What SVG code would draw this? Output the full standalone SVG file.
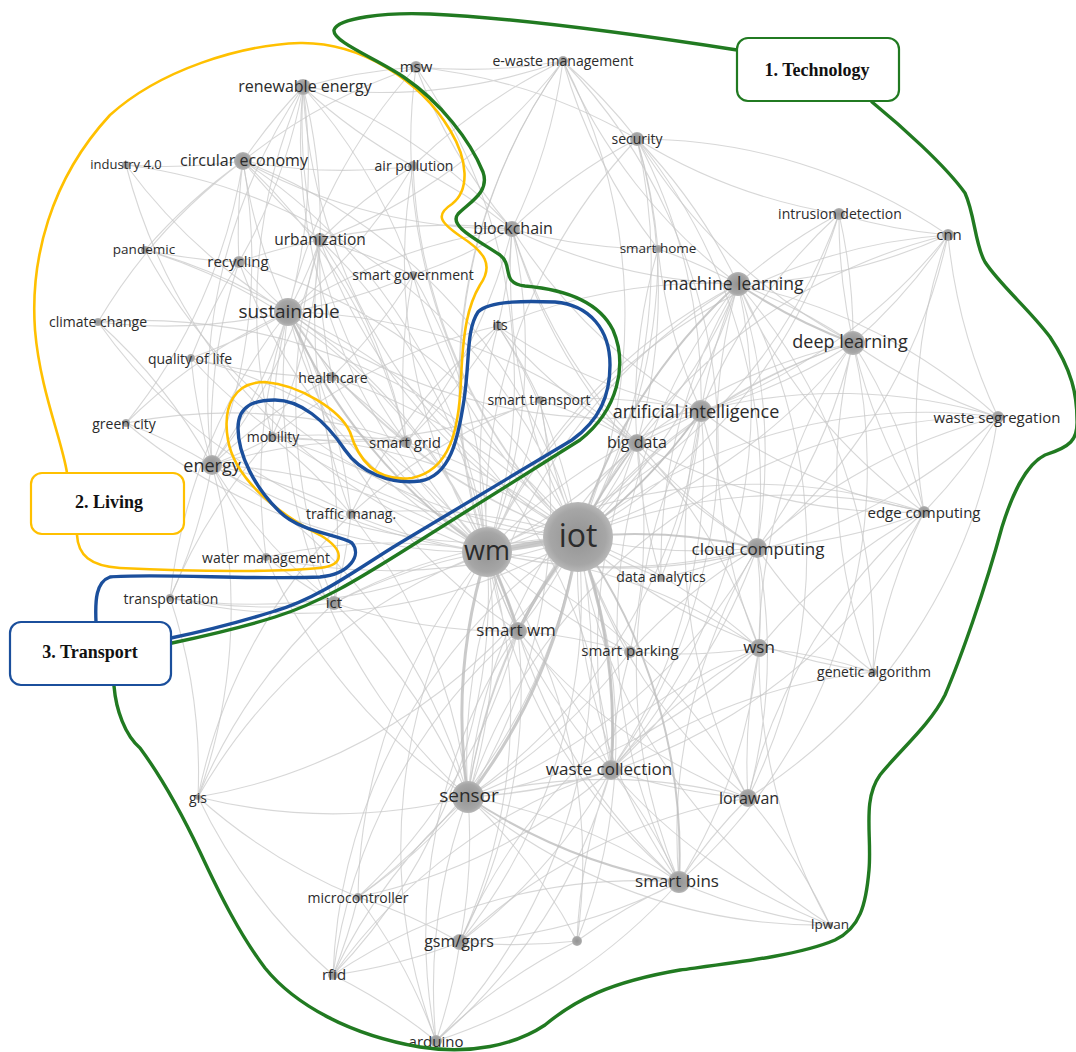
<svg xmlns="http://www.w3.org/2000/svg" width="1076" height="1052" viewBox="0 0 1076 1052">
<style>
.e path{fill:none;stroke:#c6c6c6;stroke-opacity:.7;stroke-width:1.1}
.t path{fill:none;stroke:#bdbdbd;stroke-opacity:.8}
.n circle{fill:url(#ng)}
.n text{font-family:"Open Sans","Noto Sans",sans-serif;fill:#2b2b2b;text-anchor:middle;dominant-baseline:central}
.hull{fill:none;stroke-linejoin:round;stroke-linecap:round}
.box rect{fill:#fff;stroke-width:2.2}
.box text{font-family:"Liberation Serif",serif;font-weight:bold;font-size:18px;fill:#111;text-anchor:middle;dominant-baseline:central}
</style>
<defs>
<radialGradient id="ng"><stop offset="0" stop-color="#939393"/><stop offset=".8" stop-color="#a6a6a6"/><stop offset="1" stop-color="#b8b8b8"/></radialGradient>
</defs>
<rect width="1076" height="1052" fill="#fff"/>

<!-- co-occurrence links -->
<g id="links" class="e">
<path d="M578 537A550 550 0 0 1 416 67M578 537A550 550 0 0 0 563 61M578 537A550 550 0 0 1 303 87M578 537A550 550 0 0 0 243 161M578 537A550 550 0 0 1 413 166M578 537A550 550 0 0 0 637 139M578 537A550 550 0 0 1 512 229M578 537A550 550 0 0 0 839 214M578 537A550 550 0 0 1 948 235M578 537A550 550 0 0 0 658 249M578 537A550 550 0 0 1 320 240M578 537A550 550 0 0 0 239 262M578 537A550 550 0 0 1 413 275M578 537A550 550 0 0 0 738 284M578 537A550 550 0 0 1 288 312M578 537A550 550 0 0 0 498 326M578 537A550 550 0 0 1 853 343M578 537A550 550 0 0 0 332 377M578 537A550 550 0 0 1 540 400M578 537A550 550 0 0 0 701 411M578 537A550 550 0 0 1 998 417M578 537A550 550 0 0 0 272 437M578 537A550 550 0 0 1 406 442M578 537A550 550 0 0 0 637 443M578 537A550 550 0 0 1 212 465M578 537A550 550 0 0 0 351 514M578 537A550 550 0 0 1 924 512M578 537A550 550 0 0 0 757 548M578 537A550 550 0 0 1 266 557M578 537A550 550 0 0 0 661 578M578 537A550 550 0 0 1 170 598M578 537A550 550 0 0 0 334 603M578 537A550 550 0 0 1 518 631M578 537A550 550 0 0 0 630 652M578 537A550 550 0 0 1 759 648M578 537A550 550 0 0 0 873 672M578 537A550 550 0 0 1 611 770M578 537A550 550 0 0 0 468 797M578 537A550 550 0 0 1 198 797M578 537A550 550 0 0 0 748 798M578 537A550 550 0 0 1 358 897M578 537A550 550 0 0 0 679 882M578 537A550 550 0 0 1 460 942M578 537A550 550 0 0 0 830 925M578 537A550 550 0 0 1 577 941M578 537A550 550 0 0 0 333 975M578 537A550 550 0 0 1 436 1041M578 537A550 550 0 0 0 126 165M578 537A550 550 0 0 1 145 250M578 537A550 550 0 0 0 98 322M578 537A550 550 0 0 1 191 358M578 537A550 550 0 0 0 126 423"/>
<path d="M487 552A550 550 0 0 0 416 67M487 552A550 550 0 0 1 303 87M487 552A550 550 0 0 0 243 161M487 552A550 550 0 0 1 413 166M487 552A550 550 0 0 1 637 139M487 552A550 550 0 0 0 512 229M487 552A550 550 0 0 0 320 240M487 552A550 550 0 0 1 239 262M487 552A550 550 0 0 0 413 275M487 552A550 550 0 0 1 738 284M487 552A550 550 0 0 0 288 312M487 552A550 550 0 0 1 498 326M487 552A550 550 0 0 0 853 343M487 552A550 550 0 0 1 332 377M487 552A550 550 0 0 1 701 411M487 552A550 550 0 0 0 998 417M487 552A550 550 0 0 0 272 437M487 552A550 550 0 0 1 406 442M487 552A550 550 0 0 0 637 443M487 552A550 550 0 0 0 212 465M487 552A550 550 0 0 1 351 514M487 552A550 550 0 0 1 924 512M487 552A550 550 0 0 0 757 548M487 552A550 550 0 0 0 266 557M487 552A550 550 0 0 1 170 598M487 552A550 550 0 0 0 334 603M487 552A550 550 0 0 1 518 631M487 552A550 550 0 0 0 630 652M487 552A550 550 0 0 1 759 648M487 552A550 550 0 0 0 611 770M487 552A550 550 0 0 1 468 797M487 552A550 550 0 0 0 198 797M487 552A550 550 0 0 1 748 798M487 552A550 550 0 0 0 679 882M487 552A550 550 0 0 1 460 942M487 552A550 550 0 0 1 333 975M487 552A550 550 0 0 0 436 1041M487 552A550 550 0 0 1 126 165M487 552A550 550 0 0 0 145 250M487 552A550 550 0 0 1 98 322M487 552A550 550 0 0 0 191 358M487 552A550 550 0 0 1 126 423M487 552A550 550 0 0 1 563 61M487 552A550 550 0 0 0 839 214M487 552A550 550 0 0 1 948 235M487 552A550 550 0 0 0 358 897M487 552A550 550 0 0 1 577 941M487 552A550 550 0 0 0 540 400"/>
<path d="M468 797A550 550 0 0 1 679 882M468 797A550 550 0 0 0 611 770M468 797A550 550 0 0 1 460 942M468 797A550 550 0 0 0 436 1041M468 797A550 550 0 0 1 358 897M468 797A550 550 0 0 0 333 975M468 797A550 550 0 0 1 748 798M468 797A550 550 0 0 0 759 648M468 797A550 550 0 0 1 518 631M468 797A550 550 0 0 0 757 548M468 797A550 550 0 0 1 738 284M468 797A550 550 0 0 0 701 411M468 797A550 550 0 0 1 637 443M468 797A550 550 0 0 0 630 652M468 797A550 550 0 0 1 198 797M468 797A550 550 0 0 0 830 925M468 797A550 550 0 0 1 577 941M468 797A550 550 0 0 0 212 465M468 797A550 550 0 0 1 288 312M468 797A550 550 0 0 0 334 603M468 797A550 550 0 0 1 853 343M468 797A550 550 0 0 0 924 512M468 797A550 550 0 0 1 998 417M468 797A550 550 0 0 0 540 400M468 797A550 550 0 0 1 266 557M468 797A550 550 0 0 0 351 514"/>
<path d="M288 312A550 550 0 0 1 243 161M288 312A550 550 0 0 0 303 87M288 312A550 550 0 0 1 239 262M288 312A550 550 0 0 0 320 240M288 312A550 550 0 0 1 212 465M288 312A550 550 0 0 0 413 275M288 312A550 550 0 0 1 332 377M288 312A550 550 0 0 0 272 437M288 312A550 550 0 0 1 191 358M288 312A550 550 0 0 0 126 423M288 312A550 550 0 0 1 98 322M288 312A550 550 0 0 0 145 250M288 312A550 550 0 0 1 126 165M288 312A550 550 0 0 0 413 166M288 312A550 550 0 0 1 416 67M288 312A550 550 0 0 0 406 442M288 312A550 550 0 0 1 512 229M288 312A550 550 0 0 0 701 411M288 312A550 550 0 0 1 637 443M288 312A550 550 0 0 0 170 598M288 312A550 550 0 0 1 351 514M288 312A550 550 0 0 0 266 557M288 312A550 550 0 0 1 334 603M288 312A550 550 0 0 0 518 631M288 312A550 550 0 0 1 611 770"/>
<path d="M738 284A550 550 0 0 1 853 343M738 284A550 550 0 0 0 701 411M738 284A550 550 0 0 1 637 443M738 284A550 550 0 0 0 948 235M738 284A550 550 0 0 1 839 214M738 284A550 550 0 0 0 637 139M738 284A550 550 0 0 1 512 229M738 284A550 550 0 0 0 658 249M738 284A550 550 0 0 1 998 417M738 284A550 550 0 0 0 924 512M738 284A550 550 0 0 1 757 548M738 284A550 550 0 0 0 759 648M738 284A550 550 0 0 1 748 798M738 284A550 550 0 0 0 679 882M738 284A550 550 0 0 1 873 672M738 284A550 550 0 0 0 498 326M738 284A550 550 0 0 1 611 770M738 284A550 550 0 0 0 661 578M738 284A550 550 0 0 1 563 61"/>
<path d="M853 343A550 550 0 0 0 948 235M853 343A550 550 0 0 1 701 411M853 343A550 550 0 0 0 998 417M853 343A550 550 0 0 1 924 512M853 343A550 550 0 0 0 839 214M853 343A550 550 0 0 1 757 548M853 343A550 550 0 0 0 637 443M853 343A550 550 0 0 1 679 882M853 343A550 550 0 0 0 873 672M853 343A550 550 0 0 1 637 139M853 343A550 550 0 0 0 759 648"/>
<path d="M701 411A550 550 0 0 1 637 443M701 411A550 550 0 0 0 757 548M701 411A550 550 0 0 1 512 229M701 411A550 550 0 0 0 637 139M701 411A550 550 0 0 1 658 249M701 411A550 550 0 0 0 948 235M701 411A550 550 0 0 1 998 417M701 411A550 550 0 0 0 924 512M701 411A550 550 0 0 1 611 770M701 411A550 550 0 0 0 679 882M701 411A550 550 0 0 1 661 578M701 411A550 550 0 0 0 540 400M701 411A550 550 0 0 1 498 326M701 411A550 550 0 0 0 748 798M701 411A550 550 0 0 1 839 214"/>
<path d="M637 443A550 550 0 0 0 757 548M637 443A550 550 0 0 1 512 229M637 443A550 550 0 0 0 637 139M637 443A550 550 0 0 1 658 249M637 443A550 550 0 0 0 661 578M637 443A550 550 0 0 1 498 326M637 443A550 550 0 0 0 540 400M637 443A550 550 0 0 1 759 648M637 443A550 550 0 0 0 611 770M637 443A550 550 0 0 1 630 652M637 443A550 550 0 0 0 924 512"/>
<path d="M512 229A550 550 0 0 1 637 139M512 229A550 550 0 0 0 563 61M512 229A550 550 0 0 1 416 67M512 229A550 550 0 0 0 658 249M512 229A550 550 0 0 1 498 326M512 229A550 550 0 0 0 320 240M512 229A550 550 0 0 1 413 275M512 229A550 550 0 0 0 413 166M512 229A550 550 0 0 1 243 161M512 229A550 550 0 0 0 303 87M512 229A550 550 0 0 1 406 442M512 229A550 550 0 0 0 757 548"/>
<path d="M637 139A550 550 0 0 0 563 61M637 139A550 550 0 0 1 658 249M637 139A550 550 0 0 0 839 214M637 139A550 550 0 0 1 757 548M637 139A550 550 0 0 0 416 67M637 139A550 550 0 0 1 948 235M563 61A550 550 0 0 1 416 67M563 61A550 550 0 0 0 413 166M563 61A550 550 0 0 1 303 87M563 61A550 550 0 0 0 658 249M563 61A550 550 0 0 1 320 240M563 61A550 550 0 0 0 518 631M563 61A550 550 0 0 1 611 770"/>
<path d="M243 161A550 550 0 0 1 303 87M243 161A550 550 0 0 0 239 262M243 161A550 550 0 0 1 126 165M243 161A550 550 0 0 0 320 240M243 161A550 550 0 0 1 212 465M243 161A550 550 0 0 0 145 250M243 161A550 550 0 0 1 416 67M243 161A550 550 0 0 0 413 166M243 161A550 550 0 0 1 406 442M243 161A550 550 0 0 0 98 322M243 161A550 550 0 0 1 126 423M303 87A550 550 0 0 1 416 67M303 87A550 550 0 0 0 413 166M303 87A550 550 0 0 1 320 240M303 87A550 550 0 0 0 212 465M303 87A550 550 0 0 1 239 262M303 87A550 550 0 0 0 406 442M303 87A550 550 0 0 1 413 275M303 87A550 550 0 0 0 272 437"/>
<path d="M212 465A550 550 0 0 1 239 262M212 465A550 550 0 0 0 320 240M212 465A550 550 0 0 1 406 442M212 465A550 550 0 0 0 272 437M212 465A550 550 0 0 1 351 514M212 465A550 550 0 0 0 266 557M212 465A550 550 0 0 1 170 598M212 465A550 550 0 0 0 126 423M212 465A550 550 0 0 1 191 358M212 465A550 550 0 0 0 98 322M212 465A550 550 0 0 1 332 377M212 465A550 550 0 0 0 334 603M212 465A550 550 0 0 1 198 797"/>
<path d="M757 548A550 550 0 0 1 759 648M757 548A550 550 0 0 0 924 512M757 548A550 550 0 0 1 748 798M757 548A550 550 0 0 0 679 882M757 548A550 550 0 0 1 661 578M757 548A550 550 0 0 0 873 672M757 548A550 550 0 0 1 611 770M757 548A550 550 0 0 0 630 652M757 548A550 550 0 0 1 998 417M757 548A550 550 0 0 0 948 235M759 648A550 550 0 0 0 748 798M759 648A550 550 0 0 1 679 882M759 648A550 550 0 0 0 611 770M759 648A550 550 0 0 1 873 672M759 648A550 550 0 0 0 830 925M759 648A550 550 0 0 1 630 652M759 648A550 550 0 0 0 460 942M759 648A550 550 0 0 1 924 512"/>
<path d="M611 770A550 550 0 0 1 679 882M611 770A550 550 0 0 0 748 798M611 770A550 550 0 0 1 460 942M611 770A550 550 0 0 0 518 631M611 770A550 550 0 0 1 630 652M611 770A550 550 0 0 0 577 941M611 770A550 550 0 0 1 873 672M611 770A550 550 0 0 0 830 925M611 770A550 550 0 0 1 436 1041M611 770A550 550 0 0 0 333 975M611 770A550 550 0 0 1 358 897M518 631A550 550 0 0 0 679 882M518 631A550 550 0 0 1 460 942M518 631A550 550 0 0 0 436 1041M518 631A550 550 0 0 1 358 897M518 631A550 550 0 0 0 333 975M518 631A550 550 0 0 1 630 652M518 631A550 550 0 0 0 748 798M518 631A550 550 0 0 1 334 603"/>
<path d="M679 882A550 550 0 0 1 748 798M679 882A550 550 0 0 0 830 925M679 882A550 550 0 0 1 460 942M679 882A550 550 0 0 0 577 941M679 882A550 550 0 0 1 436 1041M679 882A550 550 0 0 0 333 975M748 798A550 550 0 0 1 830 925M748 798A550 550 0 0 0 460 942M748 798A550 550 0 0 1 924 512M748 798A550 550 0 0 0 998 417M460 942A550 550 0 0 1 436 1041M460 942A550 550 0 0 0 358 897M460 942A550 550 0 0 1 333 975M460 942A550 550 0 0 0 577 941M333 975A550 550 0 0 1 436 1041M333 975A550 550 0 0 0 358 897M333 975A550 550 0 0 1 198 797M436 1041A550 550 0 0 0 358 897M436 1041A550 550 0 0 1 577 941"/>
<path d="M198 797A550 550 0 0 1 351 514M198 797A550 550 0 0 0 170 598M198 797A550 550 0 0 1 334 603M198 797A550 550 0 0 0 358 897M320 240A550 550 0 0 1 413 275M320 240A550 550 0 0 0 239 262M320 240A550 550 0 0 1 272 437M320 240A550 550 0 0 0 332 377M320 240A550 550 0 0 1 406 442M320 240A550 550 0 0 0 351 514M320 240A550 550 0 0 1 413 166M320 240A550 550 0 0 0 334 603M239 262A550 550 0 0 1 145 250M239 262A550 550 0 0 0 191 358"/>
<path d="M924 512A550 550 0 0 0 998 417M924 512A550 550 0 0 1 948 235M924 512A550 550 0 0 0 873 672M924 512A550 550 0 0 1 839 214M948 235A550 550 0 0 1 839 214M948 235A550 550 0 0 0 998 417M272 437A550 550 0 0 1 351 514M272 437A550 550 0 0 0 170 598M272 437A550 550 0 0 1 406 442M272 437A550 550 0 0 0 540 400M272 437A550 550 0 0 1 498 326M498 326A550 550 0 0 1 540 400M498 326A550 550 0 0 0 351 514M498 326A550 550 0 0 1 406 442M540 400A550 550 0 0 0 351 514M406 442A550 550 0 0 1 413 275M406 442A550 550 0 0 0 332 377M332 377A550 550 0 0 1 191 358M332 377A550 550 0 0 0 413 275M334 603A550 550 0 0 1 170 598M334 603A550 550 0 0 0 351 514M334 603A550 550 0 0 1 266 557"/>
</g>
<!-- strongest links -->
<g id="strong-links" class="t">
<path d="M578 537L487 552" stroke-width="6"/>
<path d="M578 537A550 550 0 0 1 468 797M487 552A550 550 0 0 0 468 797M578 537A550 550 0 0 0 518 631M487 552A550 550 0 0 1 518 631M578 537A550 550 0 0 1 611 770" stroke-width="3"/>
<path d="M578 537A550 550 0 0 1 738 284M578 537A550 550 0 0 0 701 411M578 537A550 550 0 0 1 637 443M578 537A550 550 0 0 1 757 548M578 537A550 550 0 0 1 679 882M468 797A550 550 0 0 0 679 882M487 552A550 550 0 0 1 288 312M738 284A550 550 0 0 0 853 343" stroke-width="2"/>
</g>

<!-- keyword nodes -->
<g class="n">
<g id="n-msw"><circle cx="416" cy="67" r="6"/><text x="416" y="66" font-size="15">msw</text></g>
<g id="n-ewaste"><circle cx="563" cy="61" r="5"/><text x="563" y="60" font-size="14">e-waste management</text></g>
<g id="n-renewable"><circle cx="303" cy="87" r="8"/><text x="305" y="86" font-size="16">renewable energy</text></g>
<g id="n-industry"><circle cx="126" cy="165" r="4"/><text x="126" y="164" font-size="13">industry 4.0</text></g>
<g id="n-circular"><circle cx="243" cy="161" r="9"/><text x="244" y="160" font-size="16">circular economy</text></g>
<g id="n-airpollution"><circle cx="413" cy="166" r="5"/><text x="414" y="165" font-size="14">air pollution</text></g>
<g id="n-security"><circle cx="637" cy="139" r="7"/><text x="637" y="138" font-size="14">security</text></g>
<g id="n-blockchain"><circle cx="512" cy="229" r="8"/><text x="513" y="228" font-size="16">blockchain</text></g>
<g id="n-intrusion"><circle cx="839" cy="214" r="6"/><text x="840" y="213" font-size="14">intrusion detection</text></g>
<g id="n-cnn"><circle cx="948" cy="235" r="6"/><text x="949" y="234" font-size="15">cnn</text></g>
<g id="n-smarthome"><circle cx="658" cy="249" r="4"/><text x="658" y="248" font-size="13.5">smart home</text></g>
<g id="n-pandemic"><circle cx="145" cy="250" r="4"/><text x="144" y="249" font-size="13.5">pandemic</text></g>
<g id="n-urbanization"><circle cx="320" cy="240" r="7"/><text x="320" y="239" font-size="15.5">urbanization</text></g>
<g id="n-recycling"><circle cx="239" cy="262" r="6"/><text x="238" y="261" font-size="15">recycling</text></g>
<g id="n-smartgov"><circle cx="413" cy="275" r="4"/><text x="413" y="274" font-size="14">smart government</text></g>
<g id="n-ml"><circle cx="738" cy="284" r="12"/><text x="733" y="283" font-size="17.5">machine learning</text></g>
<g id="n-sustainable"><circle cx="288" cy="312" r="14"/><text x="289" y="311" font-size="19">sustainable</text></g>
<g id="n-climate"><circle cx="98" cy="322" r="4"/><text x="98" y="321" font-size="14">climate change</text></g>
<g id="n-its"><circle cx="498" cy="326" r="5"/><text x="500" y="324" font-size="14">its</text></g>
<g id="n-deeplearning"><circle cx="853" cy="343" r="12"/><text x="850" y="341" font-size="18">deep learning</text></g>
<g id="n-qol"><circle cx="191" cy="358" r="4"/><text x="190" y="358" font-size="14">quality of life</text></g>
<g id="n-healthcare"><circle cx="332" cy="377" r="5"/><text x="333" y="377" font-size="14">healthcare</text></g>
<g id="n-smarttransport"><circle cx="540" cy="400" r="4"/><text x="539" y="399" font-size="14">smart transport</text></g>
<g id="n-ai"><circle cx="701" cy="411" r="11"/><text x="696" y="411" font-size="18">artificial intelligence</text></g>
<g id="n-segregation"><circle cx="998" cy="417" r="6"/><text x="997" y="417" font-size="15">waste segregation</text></g>
<g id="n-greencity"><circle cx="126" cy="423" r="4"/><text x="124" y="423" font-size="14">green city</text></g>
<g id="n-mobility"><circle cx="272" cy="437" r="5"/><text x="273" y="436" font-size="14">mobility</text></g>
<g id="n-smartgrid"><circle cx="406" cy="442" r="6"/><text x="405" y="442" font-size="15">smart grid</text></g>
<g id="n-bigdata"><circle cx="637" cy="443" r="9"/><text x="637" y="442" font-size="16">big data</text></g>
<g id="n-energy"><circle cx="212" cy="465" r="10"/><text x="212" y="465" font-size="18">energy</text></g>
<g id="n-traffic"><circle cx="351" cy="514" r="5"/><text x="351" y="513" font-size="14">traffic manag.</text></g>
<g id="n-edge"><circle cx="924" cy="512" r="6"/><text x="924" y="512" font-size="15">edge computing</text></g>
<g id="n-iot"><circle cx="578" cy="537" r="35"/><text x="578" y="534" font-size="32">iot</text></g>
<g id="n-wm"><circle cx="487" cy="552" r="25"/><text x="487" y="549" font-size="27">wm</text></g>
<g id="n-cloud"><circle cx="757" cy="548" r="10"/><text x="758" y="548" font-size="17">cloud computing</text></g>
<g id="n-water"><circle cx="266" cy="557" r="4"/><text x="266" y="557" font-size="14">water management</text></g>
<g id="n-analytics"><circle cx="661" cy="578" r="4"/><text x="661" y="576" font-size="14">data analytics</text></g>
<g id="n-transportation"><circle cx="170" cy="598" r="4"/><text x="171" y="598" font-size="14">transportation</text></g>
<g id="n-ict"><circle cx="334" cy="603" r="7"/><text x="334" y="602" font-size="15">ict</text></g>
<g id="n-smartwm"><circle cx="518" cy="631" r="9"/><text x="516" y="629" font-size="17">smart wm</text></g>
<g id="n-parking"><circle cx="630" cy="652" r="6"/><text x="630" y="650" font-size="15">smart parking</text></g>
<g id="n-wsn"><circle cx="759" cy="648" r="9"/><text x="759" y="646" font-size="17">wsn</text></g>
<g id="n-genetic"><circle cx="873" cy="672" r="4"/><text x="874" y="671" font-size="14">genetic algorithm</text></g>
<g id="n-collection"><circle cx="611" cy="770" r="10"/><text x="609" y="768" font-size="17">waste collection</text></g>
<g id="n-sensor"><circle cx="468" cy="797" r="16"/><text x="469" y="795" font-size="19">sensor</text></g>
<g id="n-gis"><circle cx="198" cy="797" r="3"/><text x="198" y="797" font-size="14">gis</text></g>
<g id="n-lorawan"><circle cx="748" cy="798" r="9"/><text x="749" y="798" font-size="16">lorawan</text></g>
<g id="n-micro"><circle cx="358" cy="897" r="4"/><text x="358" y="897" font-size="14">microcontroller</text></g>
<g id="n-smartbins"><circle cx="679" cy="882" r="11"/><text x="677" y="880" font-size="17">smart bins</text></g>
<g id="n-gsm"><circle cx="460" cy="942" r="8"/><text x="459" y="941" font-size="16">gsm/gprs</text></g>
<g id="n-lpwan"><circle cx="830" cy="925" r="3"/><text x="830" y="924" font-size="13.5">lpwan</text></g>
<g id="n-unlabelled"><circle cx="577" cy="941" r="5"/></g>
<g id="n-rfid"><circle cx="333" cy="975" r="5"/><text x="334" y="974" font-size="15">rfid</text></g>
<g id="n-arduino"><circle cx="436" cy="1041" r="6"/><text x="436" y="1041" font-size="15">arduino</text></g>
</g>

<!-- cluster outlines -->
<path id="hull-living" class="hull" stroke="#ffc000" stroke-width="2.6" d="M67 473C62 440 40 390 35 330C30 260 50 180 110 115C160 70 240 45 300 43C360 42 420 80 450 130C468 160 470 190 452 204C435 215 440 222 460 236C485 252 494 265 480 285C468 305 463 330 461 380C459 430 450 470 412 478C380 482 360 465 350 432C340 410 300 385 265 382C235 382 222 405 228 440C235 480 280 515 320 535C345 550 345 565 320 568C280 572 200 572 120 568C90 566 78 555 77 535"/>
<path id="hull-transport" class="hull" stroke="#1b4f9c" stroke-width="3.4" d="M96 622C95 600 96 582 110 577C150 573 260 580 320 577C350 574 362 555 352 543C340 535 300 532 280 512C255 488 238 455 238 428C238 405 255 400 275 400C300 400 325 420 345 450C360 472 390 485 420 481C450 476 458 440 464 400C470 360 466 330 478 312C490 300 530 301 555 302C590 305 610 330 610 365C610 395 600 420 572 440L400 543C360 567 320 598 275 611C240 622 200 632 171 638"/>
<path id="hull-technology" class="hull" stroke="#217a21" stroke-width="3.4" d="M737 50C640 35 520 18 430 14C385 12 338 18 334 30C332 42 380 60 405 78C440 102 470 140 483 172C490 192 470 202 458 214C448 226 478 240 500 255C514 266 500 283 525 286C560 289 598 300 613 330C628 365 618 410 580 440L400 553C360 578 320 603 275 617C240 628 200 637 172 643M114 686C116 710 125 735 140 748C160 775 180 810 200 852C220 895 240 935 265 968C295 1005 350 1035 420 1047C470 1055 515 1045 545 1025C575 1000 610 982 680 970C740 962 800 955 835 940C860 928 866 905 869 870C872 835 862 800 880 775C900 750 930 725 945 695C960 660 985 590 1002 527C1012 495 1025 465 1045 455C1070 447 1078 440 1077 420C1077 395 1072 370 1050 337C1030 310 1000 285 985 262C975 245 975 215 965 193C945 165 900 125 872 102"/>

<!-- cluster labels -->
<g id="box-technology" class="box"><rect x="737" y="38" width="162" height="63" rx="11" stroke="#217a21"/><text x="817" y="70">1. Technology</text></g>
<g id="box-living" class="box"><rect x="31" y="473" width="153" height="61" rx="11" stroke="#ffc000"/><text x="109" y="502">2. Living</text></g>
<g id="box-transport" class="box"><rect x="10" y="622" width="161" height="63" rx="11" stroke="#1b4f9c"/><text x="90" y="652">3. Transport</text></g>
</svg>
